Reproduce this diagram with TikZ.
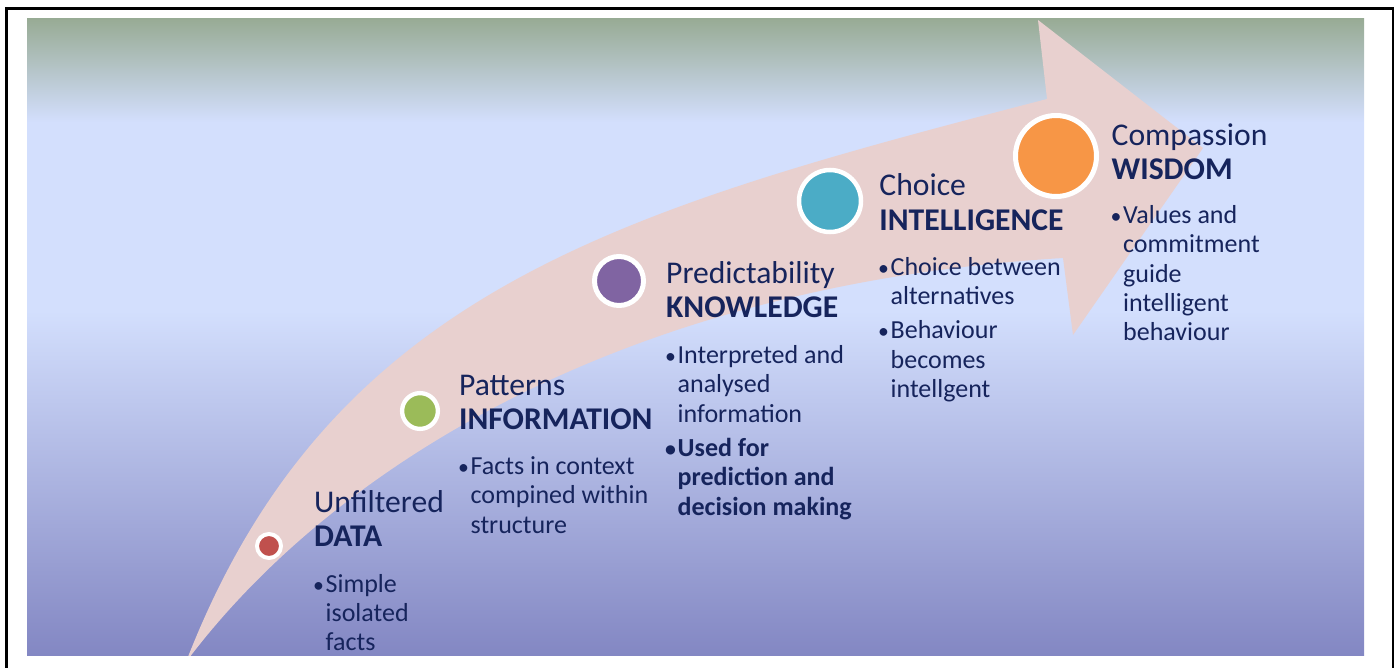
\documentclass[tikz,border=0pt]{standalone}
\usepackage{fontspec}
\setmainfont{Carlito}
\usetikzlibrary{positioning}

\definecolor{navy}{RGB}{22,36,92}
\definecolor{arrowpink}{RGB}{232,208,207}
\definecolor{bgtop}{RGB}{152,171,149}
\definecolor{bglight}{RGB}{211,223,253}
\definecolor{bgbottom}{RGB}{131,135,195}
\definecolor{datared}{RGB}{192,80,77}
\definecolor{infogreen}{RGB}{155,187,89}
\definecolor{knowpurple}{RGB}{128,100,162}
\definecolor{intelteal}{RGB}{75,172,198}
\definecolor{wisdomorange}{RGB}{247,150,70}

\newcommand{\itemdot}{\llap{{\fontsize{31}{31}\selectfont •}\hspace{2.5pt}}}

\pgfdeclareverticalshading{backdrop}{100bp}{color(0bp)=(bgbottom); color(25bp)=(bgbottom);
    color(52.1bp)=(bglight); color(66.9bp)=(bglight); color(75bp)=(bgtop); color(100bp)=(bgtop)}

\begin{document}
\begin{tikzpicture}[
                    x=0.05cm, y=-0.05cm,
                    title/.style={anchor=north west, inner sep=0pt, align=left, text=navy,
                        font=\fontsize{45}{49}\selectfont},
                    bullets/.style={anchor=north west, inner sep=0pt, align=left, text=navy,
                        font=\fontsize{37}{41.7}\selectfont},
                    stagedot/.style={circle, draw=white, inner sep=0pt}
                ]
                \useasboundingbox (0, 0) rectangle (1400, 668);
                \draw[line width=0.11cm] (6.5, 680) |- (1393, 8.5) -- (1393, 680);
                \shade[shading=backdrop] (27, 19) rectangle (1364, 655);

                \begin{scope}
                    \clip (27, 19) rectangle (1364, 655);
                    \fill[arrowpink] (186, 662) .. controls (330, 290) and (620, 210) .. (1047, 99)
                        -- (1038, 20) -- (1203, 148) -- (1073, 335) -- (1063, 258)
                        .. controls (620, 285) and (330, 470) .. (186, 662) -- cycle;
                \end{scope}

                \node[stagedot, fill=datared, minimum size=1.2cm, line width=0.2cm] (dataDot) at (269, 546) {};
                \node[title] (dataTitle) at (314, 487.9) {\strut Unfiltered\\\textbf{DATA}};
                \node[bullets] (dataText) at (325.5, 571.5) {\strut\itemdot Simple\\isolated\\facts};

                \node[stagedot, fill=infogreen, minimum size=1.79cm, line width=0.215cm] (infoDot) at (420, 411) {};
                \node[title] (infoTitle) at (459, 370.9) {\strut Patterns\\\textbf{INFORMATION}};
                \node[bullets] (infoText) at (470.5, 454) {\strut\itemdot Facts in context\\compined within\\structure};

                \node[stagedot, fill=knowpurple, minimum size=2.45cm, line width=0.25cm] (knowDot) at (619, 281) {};
                \node[title] (knowTitle) at (666, 259.2) {\strut Predictability\\\textbf{KNOWLEDGE}};
                \node[bullets] (knowText) at (677.5, 342.8)
                    {\strut\itemdot Interpreted and\\analysed\\information\\[7.4pt]
                    \textbf{\itemdot Used for}\\\textbf{prediction and}\\\textbf{decision making}};

                \node[stagedot, fill=intelteal, minimum size=3.1cm, line width=0.225cm] (intelDot) at (830, 201) {};
                \node[title] (intelTitle) at (879.3, 171.6) {\strut Choice\\\textbf{INTELLIGENCE}};
                \node[bullets] (intelText) at (890.5, 254.5)
                    {\strut\itemdot Choice between\\alternatives\\[7.4pt]\itemdot Behaviour\\becomes\\intellgent};

                \node[stagedot, fill=wisdomorange, minimum size=4.05cm, line width=0.25cm] (wisdomDot) at (1056, 156) {};
                \node[title] (wisdomTitle) at (1111.5, 120.9) {\strut Compassion\\\textbf{WISDOM}};
                \node[bullets] (wisdomText) at (1123, 202.8)
                    {\strut\itemdot Values and\\commitment\\guide\\intelligent\\behaviour};
            \end{tikzpicture}
\end{document}
